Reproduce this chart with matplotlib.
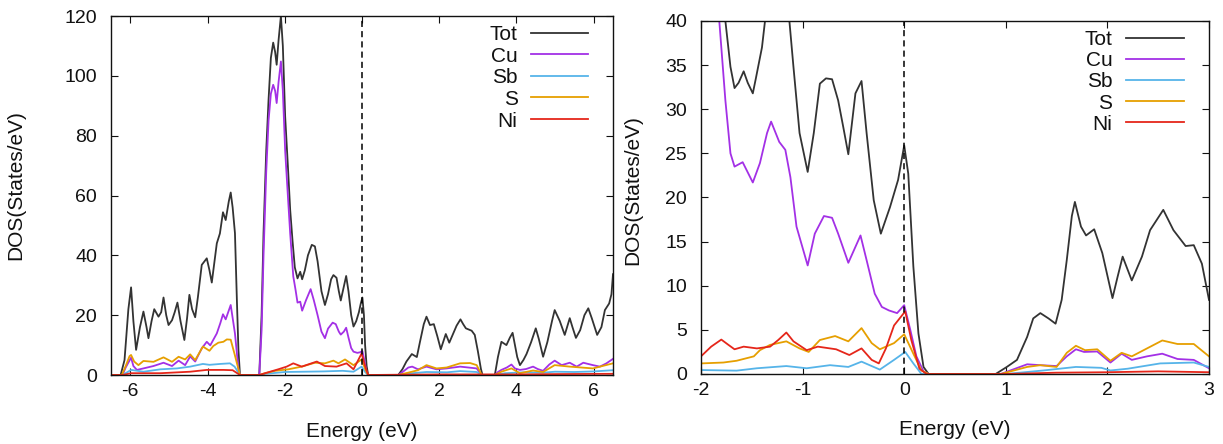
import matplotlib
matplotlib.use("Agg")
import matplotlib.pyplot as plt

plt.rcParams['font.family'] = ['Liberation Sans', 'DejaVu Sans']
plt.rcParams['axes.unicode_minus'] = False

# ---------------- Left panel data (full range) ----------------
tot_L_E = [-6.5, -6.25, -6.15, -6.05, -5.98, -5.92, -5.85, -5.75, -5.66, -5.58, -5.53, -5.45, -5.38, -5.27,
           -5.20, -5.14, -5.07, -5.01, -4.92, -4.85, -4.78, -4.70, -4.60, -4.53, -4.47, -4.40, -4.32, -4.25,
           -4.15, -4.02, -3.95, -3.89, -3.82, -3.76, -3.68, -3.60, -3.53, -3.45, -3.40, -3.35, -3.29, -3.24,
           -3.20, -3.16, -2.66, -2.60, -2.55, -2.48, -2.42, -2.36, -2.30, -2.25, -2.21, -2.16, -2.10, -2.05,
           -1.99, -1.92, -1.86, -1.80, -1.74, -1.67, -1.60, -1.55, -1.48, -1.40, -1.30, -1.22, -1.15, -1.05,
           -0.96, -0.88, -0.80, -0.74, -0.66, -0.60, -0.55, -0.48, -0.41, -0.35, -0.28, -0.22, -0.15, -0.08,
           -0.03, 0.01, 0.05, 0.08, 0.12, 0.16, 0.94, 1.05, 1.15, 1.29, 1.42, 1.50, 1.60, 1.67, 1.76, 1.86,
           1.95, 2.04, 2.10, 2.17, 2.26, 2.35, 2.45, 2.55, 2.62, 2.69, 2.84, 2.92, 3.00, 3.08, 3.12, 3.44,
           3.52, 3.61, 3.74, 3.83, 3.90, 3.96, 4.02, 4.09, 4.18, 4.26, 4.38, 4.50, 4.58, 4.69, 4.80, 4.92,
           4.99, 5.12, 5.25, 5.38, 5.45, 5.54, 5.65, 5.76, 5.86, 5.95, 6.09, 6.20, 6.29, 6.40, 6.46, 6.50]
tot_L_V = [0, 0, 5, 22, 29.3, 18, 8.4, 16, 21.2, 16, 12.3, 18, 22, 19.5,
           21, 25.9, 20, 16.7, 18.3, 21, 24.2, 18, 11.7, 19, 26.8, 22, 19.3, 26,
           36.8, 39, 35, 30.9, 38, 44, 47.3, 54.4, 51.8, 58, 61, 56, 47.4, 25,
           8.4, 0, 0, 20, 47.5, 75, 92, 106, 111.1, 108, 103.7, 112, 120, 110,
           86.4, 70, 55.2, 45, 36, 32.3, 34.5, 32, 35, 40, 43.5, 43, 38, 28,
           23.4, 27, 32, 33.4, 32.5, 28, 24.9, 29, 33.1, 28, 20, 16.2, 18, 21,
           24, 25.9, 20, 10, 3, 0, 0, 2, 4.5, 7.0, 6.0, 11, 17, 19.5, 16.7, 17,
           13, 8.6, 11, 13.7, 10.8, 13.5, 16.5, 18.6, 17, 15.6, 14.8, 13.4, 8, 2, 0, 0,
           6, 11.1, 10, 12.5, 14.1, 10, 6, 3.3, 5, 7, 11, 15.6, 12, 6.1, 11, 18,
           21.7, 18.1, 13.4, 19, 16, 12.4, 15, 20, 22.3, 19, 13.4, 16, 21.7, 23.9, 27, 33.7]

cu_L_E = [-6.5, -6.2, -6.12, -5.98, -5.92, -5.83, -5.66, -5.40, -5.14, -4.92, -4.75, -4.58, -4.45, -4.32,
          -4.15, -4.02, -3.93, -3.76, -3.67, -3.60, -3.53, -3.40, -3.29, -3.20, -3.16, -2.66, -2.60, -2.55,
          -2.48, -2.42, -2.36, -2.30, -2.25, -2.21, -2.16, -2.10, -2.05, -1.99, -1.92, -1.86, -1.78, -1.72,
          -1.67, -1.60, -1.55, -1.45, -1.33, -1.25, -1.15, -1.05, -0.96, -0.88, -0.76, -0.68, -0.60, -0.55,
          -0.47, -0.41, -0.35, -0.28, -0.22, -0.12, -0.05, 0.01, 0.06, 0.11, 0.15, 0.94, 1.05, 1.20, 1.30,
          1.45, 1.67, 1.93, 2.19, 2.54, 2.97, 3.05, 3.12, 3.44, 3.52, 3.61, 3.75, 3.87, 3.96, 4.09, 4.25,
          4.43, 4.55, 4.69, 4.85, 4.99, 5.17, 5.38, 5.56, 5.73, 5.98, 6.16, 6.33, 6.50]
cu_L_V = [0, 0, 2.5, 5.8, 3.0, 1.7, 2.2, 3.0, 4.1, 3.0, 4.8, 3.3, 6.2, 4.5,
          8.9, 11.1, 9.9, 13.9, 17.3, 20.3, 18.6, 23.4, 13.9, 2, 0, 0, 15, 40,
          68, 85, 94, 97, 95, 90.9, 98, 104.8, 95, 75, 60, 47.4, 33, 28.4,
          24.2, 24.5, 21.5, 25, 28.7, 25.1, 20, 14.5, 12.3, 15.5, 17.5, 17, 14.5, 13.5,
          14.5, 15.8, 12.5, 9, 7.8, 7.4, 7.6, 8.0, 5, 1.5, 0, 0, 1.0, 2.5, 2.8,
          1.9, 2.8, 1.9, 2.2, 2.8, 2.2, 0.8, 0, 0, 1.0, 1.7, 2.5, 3.5, 2.2, 1.7, 2.0,
          2.8, 2.0, 1.4, 3.5, 4.8, 3.3, 4.1, 2.8, 4.1, 3.3, 2.8, 3.9, 5.4]

sb_L_E = [-6.5, -6.2, -5.98, -5.66, -5.22, -4.79, -4.45, -4.12, -3.95, -3.67, -3.42, -3.30, -3.16, -2.66,
          -2.50, -2.00, -1.50, -1.00, -0.50, -0.22, -0.01, 0.08, 0.16, 0.94, 1.30, 1.67, 2.20, 2.54, 2.97,
          3.12, 3.44, 3.70, 4.20, 4.70, 5.00, 5.50, 6.00, 6.50]
sb_L_V = [0, 0, 1.7, 1.1, 1.9, 2.2, 2.8, 3.7, 3.4, 3.7, 3.9, 2.8, 0, 0,
          0.4, 1.0, 1.1, 1.2, 1.4, 1.1, 2.8, 1.0, 0, 0, 0.6, 1.0, 0.9, 1.3, 1.0,
          0, 0, 0.6, 0.9, 0.8, 1.1, 1.0, 1.2, 1.6]

s_L_E = [-6.5, -6.22, -6.12, -6.02, -5.98, -5.90, -5.79, -5.66, -5.40, -5.14, -4.92, -4.75, -4.58, -4.45,
         -4.32, -4.12, -3.95, -3.85, -3.72, -3.59, -3.50, -3.40, -3.30, -3.16, -2.66, -2.51, -2.25, -1.91,
         -1.56, -1.22, -0.96, -0.74, -0.61, -0.44, -0.22, -0.01, 0.08, 0.16, 0.94, 1.20, 1.45, 1.67, 1.93,
         2.19, 2.54, 2.80, 2.97, 3.10, 3.44, 3.61, 3.87, 4.09, 4.43, 4.69, 4.99, 5.38, 5.98, 6.50]
s_L_V = [0, 0, 3, 6.3, 6.7, 4.5, 3.3, 4.7, 4.4, 5.9, 4.4, 6.1, 5.2, 6.9,
         5.0, 9.5, 8.1, 9.7, 10.8, 11.1, 11.9, 11.8, 7, 0, 0, 0.6, 1.4, 1.9,
         2.8, 4.1, 3.9, 4.8, 3.9, 5.2, 3.3, 5.2, 2, 0, 0, 0.8, 1.6, 3.3, 2.2,
         2.5, 3.9, 4.0, 3.3, 0, 0, 1.1, 2.2, 0.6, 1.5, 1.0, 3.3, 2.8, 2.2, 3.9]

ni_L_E = [-6.5, -6.2, -5.98, -5.22, -4.45, -4.02, -3.59, -3.35, -3.16, -2.66, -2.51, -2.17, -1.95, -1.78,
          -1.56, -1.17, -0.96, -0.66, -0.40, -0.22, -0.01, 0.08, 0.16, 1.0, 2.0, 3.0, 4.0, 5.0, 6.5]
ni_L_V = [0, 0, 0.6, 0.6, 1.1, 1.7, 1.7, 1.6, 0, 0, 0.6, 1.9, 2.8, 3.9,
          2.8, 4.5, 3.0, 2.8, 3.9, 1.9, 7.2, 3, 0, 0.1, 0.2, 0.2, 0.2, 0.3, 0.4]

# ---------------- Right panel data (zoom) ----------------
tot_R_E = [-2.00, -1.90, -1.80, -1.76, -1.71, -1.67, -1.63, -1.58, -1.54, -1.49, -1.46, -1.40, -1.37, -1.30,
           -1.20, -1.13, -1.09, -1.03, -0.95, -0.89, -0.83, -0.77, -0.71, -0.65, -0.60, -0.55, -0.48, -0.42,
           -0.37, -0.30, -0.23, -0.14, -0.06, 0.00, 0.04, 0.09, 0.14, 0.19, 0.24, 0.90, 1.01, 1.11, 1.21,
           1.27, 1.34, 1.42, 1.49, 1.55, 1.60, 1.65, 1.68, 1.74, 1.79, 1.87, 1.95, 2.05, 2.10, 2.15, 2.24,
           2.34, 2.42, 2.55, 2.65, 2.77, 2.85, 2.93, 3.00]
tot_R_V = [85, 55, 42, 40, 34.8, 32.4, 33.0, 34.3, 33, 31.8, 33.5, 37, 40, 44,
           44, 40, 34.8, 27.3, 22.9, 27.3, 32.9, 33.5, 33.4, 31, 28, 24.9, 31.8, 33.2,
           27.3, 19.7, 15.9, 18.9, 22, 25.9, 22.7, 12.2, 4.6, 0.8, 0, 0, 0.8, 1.6, 4.2,
           6.3, 6.9, 6.3, 5.7, 8.4, 12.9, 17.9, 19.5, 16.7, 15.7, 16.4, 13.7, 8.6, 11, 13.3, 10.6,
           13.3, 16.3, 18.6, 16.3, 14.5, 14.6, 12.5, 8.4]

cu_R_E = [-2.00, -1.90, -1.82, -1.76, -1.71, -1.67, -1.59, -1.49, -1.42, -1.35, -1.31, -1.23, -1.17, -1.12,
          -1.06, -0.95, -0.88, -0.79, -0.71, -0.65, -0.55, -0.43, -0.37, -0.29, -0.22, -0.15, -0.07, 0.00,
          0.06, 0.12, 0.19, 0.24, 0.95, 1.21, 1.34, 1.50, 1.60, 1.69, 1.77, 1.90, 2.03, 2.14, 2.24, 2.39,
          2.54, 2.69, 2.85, 3.00]
cu_R_V = [60, 48, 40, 31, 25, 23.5, 24.0, 21.7, 23.9, 27.3, 28.6, 26.3, 25.4, 22.3,
          16.7, 12.3, 15.9, 17.9, 17.7, 15.9, 12.6, 15.7, 12.9, 9.1, 7.6, 7.2, 6.9, 7.8,
          5.0, 2.0, 0.3, 0, 0, 1.1, 1.0, 0.9, 2.0, 2.8, 2.5, 2.55, 1.3, 2.3, 1.6, 2.0,
          2.3, 1.7, 1.6, 0.65]

sb_R_E = [-2.00, -1.65, -1.45, -1.16, -0.96, -0.73, -0.55, -0.42, -0.24, -0.10, 0.01, 0.09, 0.17, 1.00,
          1.37, 1.69, 1.94, 2.03, 2.20, 2.52, 2.85, 3.00]
sb_R_V = [0.45, 0.38, 0.65, 0.9, 0.65, 1.0, 0.8, 1.4, 0.5, 1.6, 2.5, 1.2, 0, 0,
          0.4, 0.8, 0.7, 0.4, 0.6, 1.2, 1.3, 0.8]

s_R_E = [-2.00, -1.78, -1.65, -1.48, -1.42, -1.32, -1.16, -1.03, -0.94, -0.83, -0.68, -0.55, -0.42, -0.32,
         -0.24, -0.10, 0.00, 0.09, 0.17, 0.24, 0.95, 1.21, 1.34, 1.50, 1.60, 1.69, 1.78, 1.90, 2.03, 2.14,
         2.24, 2.39, 2.54, 2.69, 2.85, 3.00]
s_R_V = [1.2, 1.3, 1.5, 2.0, 2.7, 3.3, 3.7, 2.9, 2.5, 3.85, 4.3, 3.7, 5.2, 3.5,
         2.8, 3.5, 4.5, 2.3, 0.4, 0, 0, 0.8, 1.0, 0.8, 2.4, 3.2, 2.7, 2.8, 1.5, 2.4,
         2.0, 2.9, 3.8, 3.4, 3.4, 2.0]

ni_R_E = [-2.00, -1.90, -1.80, -1.73, -1.67, -1.58, -1.45, -1.32, -1.24, -1.16, -1.09, -0.96, -0.85, -0.67,
          -0.54, -0.42, -0.32, -0.25, -0.18, -0.10, 0.01, 0.07, 0.15, 0.22, 1.00, 1.50, 2.00, 2.50, 3.00]
ni_R_V = [2.0, 3.1, 3.9, 3.3, 2.8, 3.1, 2.9, 3.1, 3.85, 4.7, 3.7, 2.7, 3.1, 2.8,
          2.15, 2.9, 1.6, 1.2, 2.9, 5.5, 7.1, 3.85, 0.6, 0, 0, 0.15, 0.2, 0.3, 0.2]

labels = ["Tot", "Cu", "Sb", "S", "Ni"]
colors = ["#333333", "#a330e6", "#56b4e9", "#e69f00", "#e5261a"]

left_series = [(tot_L_E, tot_L_V), (cu_L_E, cu_L_V), (sb_L_E, sb_L_V), (s_L_E, s_L_V), (ni_L_E, ni_L_V)]
right_series = [(tot_R_E, tot_R_V), (cu_R_E, cu_R_V), (sb_R_E, sb_R_V), (s_R_E, s_R_V), (ni_R_E, ni_R_V)]

W, H = 1223, 444
fig = plt.figure(figsize=(W / 100, H / 100), dpi=100)

def make_axes(l, r, b, t):
    return fig.add_axes([l / W, 1 - b / H, (r - l) / W, (b - t) / H])

axL = make_axes(111, 613, 375, 16)
axR = make_axes(701, 1209, 374, 21)

def style(ax, series, xlim, ylim, xticks, yticks, ylab_x, ylab_y):
    for (E, V), c, lab in zip(series, colors, labels):
        ax.plot(E, V, color=c, lw=1.3, label=lab, solid_joinstyle='round')
    ax.axvline(0, color='black', lw=1.1, linestyle=(0, (4, 2.7)))
    ax.set_xlim(*xlim)
    ax.set_ylim(*ylim)
    ax.set_xticks(xticks)
    ax.set_yticks(yticks)
    ax.tick_params(direction='in', top=True, right=True, length=5, width=0.8,
                   labelsize=14, colors='#111111')
    ax.tick_params(axis='y', pad=10)
    ax.tick_params(axis='x', pad=6)
    for sp in ax.spines.values():
        sp.set_linewidth(1.0)
        sp.set_color('#111111')
    ax.set_xlabel("Energy (eV)", fontsize=15, color='#111111')
    ax.set_ylabel("DOS(States/eV)", fontsize=15, color='#111111')
    ax.xaxis.set_label_coords(0.5, -0.13)
    ax.yaxis.set_label_coords(ylab_x, ylab_y)
    # gnuplot-style legend: right-aligned text followed by line sample
    ys = [0.953, 0.893, 0.833, 0.773, 0.713]
    for lab, c, y in zip(labels, colors, ys):
        ax.text(0.81, y - 0.021, lab, transform=ax.transAxes, ha='right', va='baseline',
                fontsize=15, color='#111111')
        ax.plot([0.837, 0.95], [y, y], transform=ax.transAxes, color=c, lw=1.3,
                clip_on=False)

style(axL, left_series, (-6.5, 6.5), (0, 120), [-6, -4, -2, 0, 2, 4, 6],
      [0, 20, 40, 60, 80, 100, 120], -0.171, 0.53)
style(axR, right_series, (-2, 3), (0, 40), [-2, -1, 0, 1, 2, 3],
      [0, 5, 10, 15, 20, 25, 30, 35, 40], -0.116, 0.52)

fig.savefig("out.png", dpi=100)
